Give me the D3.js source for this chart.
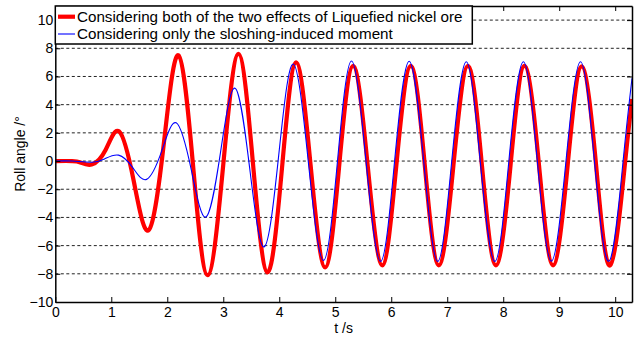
<!DOCTYPE html>
<html>
<head>
<meta charset="utf-8">
<script src="https://cdn.jsdelivr.net/npm/d3@7/dist/d3.min.js"></script>
<style>
  html, body { margin: 0; padding: 0; background: #fff; }
  svg { display: block; font-family: "Liberation Sans", Arial, sans-serif; }
</style>
</head>
<body>
<svg id="chart" width="641" height="343"></svg>
<script>
// Roll response time histories (t in s, roll angle in degrees)
const bothTime = [0, 0.3, 0.45, 0.65, 0.9, 1.14, 1.4, 1.67, 1.94, 2.2, 2.46, 2.72, 3.0, 3.27, 3.53, 3.79, 4.05, 4.3, 4.56, 4.82, 5.07, 5.32, 5.58, 5.84, 6.09, 6.35, 6.6, 6.85, 7.11, 7.37, 7.62, 7.87, 8.13, 8.38, 8.64, 8.89, 9.15, 9.4, 9.66, 9.91, 10.17, 10.3];
const bothRoll = [0, 0, -0.1, -0.25, 0.8, 2.1, -1.4, -4.9, 1.3, 7.5, -0.3, -8.1, -0.25, 7.6, -0.15, -7.9, -0.45, 7.0, -0.3, -7.55, -0.35, 6.75, -0.35, -7.4, -0.35, 6.75, -0.33, -7.4, -0.33, 6.75, -0.33, -7.4, -0.33, 6.75, -0.33, -7.4, -0.33, 6.72, -0.35, -7.4, -0.35, 4.4];

const sloshTime = [0, 0.3, 0.65, 0.88, 1.13, 1.38, 1.63, 1.9, 2.16, 2.43, 2.69, 2.95, 3.21, 3.47, 3.73, 3.99, 4.25, 4.52, 4.79, 5.04, 5.29, 5.55, 5.81, 6.06, 6.32, 6.58, 6.83, 7.08, 7.34, 7.59, 7.85, 8.1, 8.36, 8.61, 8.86, 9.12, 9.38, 9.63, 9.89, 10.14, 10.3];
const sloshRoll = [0, 0, -0.08, 0.15, 0.42, -0.45, -1.3, 0.7, 2.71, -0.65, -3.97, 0.6, 5.17, -0.45, -6.09, 0.4, 6.88, -0.1, -7.05, 0, 7.1, -0.02, -7.12, 0, 7.08, -0.02, -7.12, -0.02, 7.05, -0.03, -7.12, -0.03, 7.05, -0.03, -7.1, -0.03, 7.05, -0.03, -7.1, -0.03, 5.87];

const xTicks = [0, 1, 2, 3, 4, 5, 6, 7, 8, 9, 10];
const yTicks = [-10, -8, -6, -4, -2, 0, 2, 4, 6, 8, 10];
const seriesNames = [
  "Considering both of the two effects of Liquefied nickel ore",
  "Considering only the sloshing-induced moment"
];

const svg = d3.select("#chart");
const plotLeft = 55.3, plotRight = 632, plotTop = 6, plotBottom = 302;

const x = d3.scaleLinear().domain([0, 10.3]).range([plotLeft, plotRight]);
const y = d3.scaleLinear().domain([-10, 11]).range([plotBottom, plotTop]);

svg.append("defs").append("clipPath").attr("id", "plotClip")
  .append("rect").attr("x", plotLeft).attr("y", plotTop)
  .attr("width", plotRight - plotLeft).attr("height", plotBottom - plotTop);

// dotted horizontal grid
svg.append("g").selectAll("line")
  .data(yTicks.filter(v => v > -10))
  .join("line")
  .attr("x1", plotLeft).attr("x2", plotRight)
  .attr("y1", d => y(d)).attr("y2", d => y(d))
  .attr("stroke", "#222").attr("stroke-width", 1)
  .attr("stroke-dasharray", "3,2.5");

// curves
const line = d3.line()
  .x(d => x(d[0])).y(d => y(d[1]))
  .curve(d3.curveNatural);

const plot = svg.append("g").attr("clip-path", "url(#plotClip)");
plot.append("path")
  .attr("d", line(d3.zip(bothTime, bothRoll)))
  .attr("fill", "none").attr("stroke", "#ff0000")
  .attr("stroke-width", 4.2).attr("stroke-linejoin", "round");
plot.append("path")
  .attr("d", line(d3.zip(sloshTime, sloshRoll)))
  .attr("fill", "none").attr("stroke", "#0000ff")
  .attr("stroke-width", 1.1).attr("stroke-linejoin", "round");

// axes: ticks pointing inward, box around the plot
const bottomAxis = d3.axisBottom(x).tickValues(xTicks).tickSizeInner(-5).tickSizeOuter(0).tickPadding(8);
const topAxis = d3.axisTop(x).tickValues(xTicks).tickSizeInner(-5).tickSizeOuter(0).tickFormat("");
const leftAxis = d3.axisLeft(y).tickValues(yTicks).tickSizeInner(-5).tickSizeOuter(0).tickPadding(7);
const rightAxis = d3.axisRight(y).tickValues(yTicks).tickSizeInner(-5).tickSizeOuter(0).tickFormat("");

function styleAxis(g) {
  g.select(".domain").attr("stroke", "#000").attr("stroke-width", 1.5);
  g.selectAll(".tick line").attr("stroke", "#000").attr("stroke-width", 1);
  g.selectAll(".tick text").attr("fill", "#000").attr("font-size", 14)
    .attr("font-family", "'Liberation Sans', Arial, sans-serif");
}

svg.append("g").attr("transform", `translate(0,${plotBottom})`).call(bottomAxis).call(styleAxis)
  .selectAll(".tick text").attr("dy", "0.71em").attr("y", 5);
svg.append("g").attr("transform", `translate(0,${plotTop})`).call(topAxis).call(styleAxis);
svg.append("g").attr("transform", `translate(${plotLeft},0)`).call(leftAxis).call(styleAxis)
  .selectAll(".tick text").attr("x", -2);
svg.append("g").attr("transform", `translate(${plotRight},0)`).call(rightAxis).call(styleAxis);

// axis titles
svg.append("text")
  .attr("x", (plotLeft + plotRight) / 2).attr("y", 333)
  .attr("text-anchor", "middle").attr("font-size", 14).attr("fill", "#000")
  .text("t /s");
svg.append("text")
  .attr("transform", `translate(25,${(plotTop + plotBottom) / 2}) rotate(-90)`)
  .attr("text-anchor", "middle").attr("font-size", 14).attr("fill", "#000")
  .text("Roll angle /°");

// legend
const legend = svg.append("g");
legend.append("rect")
  .attr("x", plotLeft).attr("y", plotTop).attr("width", 417).attr("height", 38)
  .attr("fill", "#fff").attr("stroke", "#000").attr("stroke-width", 1.5);
const legendColors = ["#ff0000", "#0000ff"];
const legendWidths = [4.2, 1.1];
const legendY = [16.7, 34];
seriesNames.forEach((name, i) => {
  legend.append("line")
    .attr("x1", 58).attr("x2", 75)
    .attr("y1", legendY[i]).attr("y2", legendY[i])
    .attr("stroke", legendColors[i]).attr("stroke-width", legendWidths[i]);
  legend.append("text")
    .attr("x", 77).attr("y", legendY[i] + 5.3)
    .attr("font-size", 15.2).attr("fill", "#000")
    .text(name);
});
</script>
</body>
</html>
